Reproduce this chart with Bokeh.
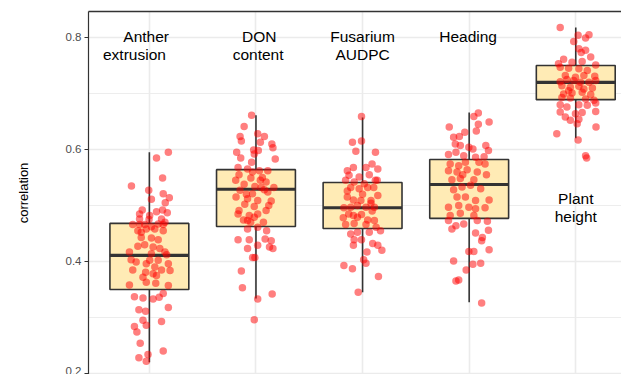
from bokeh.plotting import figure
from bokeh.models import Range1d, FixedTicker, Label, ColumnDataSource, LinearAxis
from bokeh.embed import file_html
from bokeh.resources import INLINE

# ---- data ----
traits = ["Anther extrusion", "DON content", "Fusarium AUDPC", "Heading", "Plant height"]
whisker_low = [0.220, 0.334, 0.345, 0.327, 0.620]
q1 = [0.350, 0.4625, 0.459, 0.477, 0.689]
median = [0.411, 0.529, 0.496, 0.5375, 0.720]
q3 = [0.468, 0.564, 0.541, 0.582, 0.750]
whisker_high = [0.595, 0.661, 0.657, 0.666, 0.818]

# jittered cross-validation correlations: (horizontal jitter, correlation)
anther_pts = [(0.178,0.595),(0.067,0.585),(0.124,0.549),(-0.168,0.535),(-0.006,0.527),(0.130,0.521),(0.187,0.514),(0.019,0.511),(0.149,0.505),(-0.067,0.492),(-0.092,0.485),(0.067,0.489),(0.124,0.492),(0.168,0.487),(0.003,0.482),(-0.092,0.476),(-0.003,0.475),(0.114,0.476),(0.146,0.470),(-0.156,0.466),(-0.092,0.466),(-0.044,0.466),(0.019,0.462),(0.083,0.467),(0.130,0.466),(-0.108,0.455),(-0.029,0.458),(0.051,0.458),(0.130,0.455),(-0.076,0.443),(0.019,0.442),(0.083,0.439),(-0.108,0.427),(-0.044,0.430),(0.035,0.426),(0.098,0.423),(-0.187,0.417),(0.019,0.414),(0.146,0.417),(0.162,0.412),(-0.171,0.403),(-0.124,0.399),(-0.029,0.396),(0.083,0.402),(0.178,0.396),(-0.156,0.385),(-0.035,0.381),(0.035,0.378),(0.114,0.385),(0.194,0.384),(-0.060,0.372),(0.067,0.375),(-0.187,0.358),(-0.029,0.363),(0.060,0.361),(0.178,0.357),(-0.140,0.337),(-0.060,0.335),(0.035,0.333),(0.092,0.336),(0.130,0.343),(0.178,0.318),(-0.098,0.314),(-0.035,0.311),(-0.060,0.295),(0.114,0.293),(-0.140,0.284),(-0.029,0.286),(-0.117,0.274),(-0.086,0.254),(0.130,0.240),(-0.098,0.228),(-0.013,0.234),(-0.029,0.222),(0.003,0.402),(0.051,0.390),(-0.076,0.452)]
don_pts = [(-0.041,0.661),(-0.111,0.641),(0.016,0.628),(-0.149,0.623),(0.079,0.623),(-0.137,0.615),(0.041,0.613),(0.149,0.610),(-0.181,0.595),(-0.022,0.599),(0.022,0.598),(0.159,0.603),(-0.143,0.585),(-0.016,0.592),(0.181,0.583),(-0.041,0.577),(-0.168,0.568),(-0.079,0.565),(0.032,0.562),(0.111,0.562),(-0.159,0.555),(-0.048,0.549),(0.041,0.545),(0.095,0.542),(0.168,0.532),(-0.190,0.545),(-0.111,0.538),(-0.010,0.534),(0.079,0.528),(-0.149,0.527),(-0.032,0.521),(0.111,0.524),(-0.187,0.515),(-0.079,0.512),(0.016,0.509),(0.143,0.508),(-0.105,0.502),(-0.016,0.498),(-0.159,0.491),(-0.168,0.485),(-0.063,0.482),(0.016,0.485),(0.095,0.491),(-0.117,0.474),(-0.016,0.479),(-0.079,0.458),(0.016,0.461),(-0.168,0.439),(-0.063,0.439),(0.086,0.440),(0.143,0.437),(-0.079,0.423),(0.016,0.429),(0.127,0.426),(0.159,0.423),(-0.032,0.407),(-0.010,0.407),(-0.137,0.383),(-0.127,0.353),(0.016,0.333),(0.152,0.342),(-0.016,0.296),(0.048,0.532),(-0.032,0.560),(-0.079,0.473),(0.060,0.550),(-0.090,0.520),(0.120,0.500),(-0.050,0.470),(0.070,0.470),(0.100,0.455)]
fusarium_pts = [(-0.010,0.659),(-0.095,0.613),(-0.010,0.615),(-0.063,0.597),(0.121,0.595),(-0.143,0.562),(-0.086,0.568),(0.032,0.568),(0.089,0.574),(0.143,0.565),(-0.127,0.554),(-0.032,0.551),(0.063,0.555),(0.137,0.545),(-0.159,0.545),(-0.079,0.542),(0.016,0.539),(-0.111,0.532),(-0.032,0.530),(0.048,0.532),(0.105,0.532),(-0.143,0.515),(-0.086,0.510),(-0.016,0.509),(0.079,0.509),(0.143,0.518),(-0.175,0.496),(-0.111,0.497),(-0.048,0.500),(0.032,0.497),(0.111,0.497),(-0.181,0.478),(-0.086,0.482),(-0.010,0.484),(0.048,0.474),(0.111,0.473),(-0.159,0.466),(-0.079,0.468),(0.032,0.466),(0.127,0.461),(-0.111,0.449),(-0.048,0.452),(0.063,0.452),(0.168,0.455),(-0.079,0.439),(-0.010,0.439),(0.095,0.432),(0.143,0.429),(-0.086,0.429),(0.181,0.420),(0.041,0.417),(0.010,0.403),(0.032,0.397),(-0.175,0.393),(-0.095,0.387),(0.149,0.373),(-0.041,0.345),(0.079,0.504),(-0.143,0.526),(-0.048,0.479),(0.090,0.490),(-0.130,0.485),(0.000,0.520),(0.120,0.545)]
heading_pts = [(0.086,0.665),(0.044,0.659),(0.086,0.645),(0.187,0.649),(-0.187,0.640),(-0.146,0.622),(-0.092,0.623),(-0.041,0.631),(0.067,0.633),(-0.130,0.610),(-0.083,0.607),(-0.003,0.604),(0.035,0.601),(0.156,0.607),(0.181,0.598),(-0.194,0.591),(-0.124,0.595),(-0.051,0.589),(0.060,0.586),(0.140,0.587),(-0.178,0.574),(-0.098,0.571),(-0.035,0.577),(0.092,0.577),(0.149,0.574),(-0.194,0.562),(-0.114,0.560),(-0.019,0.564),(0.076,0.560),(0.162,0.555),(-0.162,0.546),(-0.083,0.548),(0.044,0.546),(-0.146,0.528),(-0.067,0.533),(0.108,0.530),(0.187,0.510),(-0.114,0.515),(-0.035,0.515),(0.060,0.509),(-0.194,0.497),(-0.098,0.500),(-0.003,0.497),(0.060,0.494),(0.149,0.496),(-0.178,0.482),(-0.083,0.486),(0.044,0.482),(-0.194,0.473),(-0.051,0.467),(0.076,0.473),(0.171,0.472),(-0.162,0.458),(-0.124,0.464),(0.060,0.451),(0.124,0.443),(0.181,0.456),(0.117,0.437),(0.187,0.421),(-0.003,0.418),(0.044,0.418),(-0.146,0.401),(0.035,0.395),(0.108,0.397),(-0.028,0.385),(-0.124,0.365),(-0.098,0.367),(0.117,0.326),(0.013,0.536),(-0.060,0.555)]
plant_pts = [(-0.146,0.818),(0.022,0.804),(0.124,0.805),(0.092,0.799),(-0.019,0.793),(0.029,0.780),(0.092,0.777),(0.051,0.773),(0.140,0.765),(-0.114,0.761),(-0.162,0.753),(-0.035,0.756),(0.060,0.757),(0.187,0.751),(-0.146,0.747),(-0.067,0.745),(0.029,0.744),(0.108,0.741),(-0.098,0.732),(-0.003,0.729),(0.076,0.732),(0.178,0.731),(-0.146,0.721),(-0.083,0.725),(-0.019,0.723),(0.044,0.720),(0.124,0.720),(0.187,0.723),(-0.130,0.714),(-0.051,0.711),(0.029,0.713),(0.156,0.710),(-0.114,0.699),(-0.035,0.701),(0.060,0.702),(0.140,0.698),(-0.130,0.693),(-0.051,0.692),(0.092,0.690),(0.171,0.688),(-0.146,0.680),(-0.083,0.676),(0.029,0.680),(0.108,0.679),(0.187,0.683),(-0.146,0.667),(-0.003,0.664),(0.060,0.666),(0.187,0.668),(-0.098,0.658),(-0.051,0.652),(0.013,0.646),(0.029,0.654),(-0.178,0.628),(0.190,0.640),(0.022,0.617),(0.092,0.589),(0.102,0.585),(-0.067,0.705),(0.076,0.708)]

label_lines = [["Anther", "extrusion"], ["DON", "content"], ["Fusarium", "AUDPC"], ["Heading"], ["Plant", "height"]]
y_ticks = [0.2, 0.4, 0.6, 0.8]
y_minor = [0.3, 0.5, 0.7]

# ---- layout constants ----
Y_TOP = 0.8464
Y_BOT = 0.1982
BOX_W = 0.74
FONT = "Liberation Sans"
GRID = "#EBEBEB"
DARK = "#333333"

xs = [i + 1 for i in range(len(traits))]

p = figure(width=621, height=374, output_backend="svg", toolbar_location=None,
           x_range=Range1d(0.429, 5.429), y_range=Range1d(Y_BOT, Y_TOP),
           min_border_left=88, min_border_right=0, min_border_top=11, min_border_bottom=0)
p.outline_line_color = None
p.background_fill_color = "white"

p.xaxis.visible = False
p.xaxis.ticker = FixedTicker(ticks=xs)
p.xgrid.grid_line_color = GRID
p.xgrid.grid_line_width = 1.6

p.yaxis.ticker = FixedTicker(ticks=y_ticks, minor_ticks=y_minor)
p.ygrid.grid_line_color = GRID
p.ygrid.grid_line_width = 1.6
p.ygrid.minor_grid_line_color = GRID
p.ygrid.minor_grid_line_width = 0.9

ax = p.yaxis[0]
ax.axis_label = "correlation"
ax.axis_label_text_font = FONT
ax.axis_label_text_font_size = "13px"
ax.axis_label_text_font_style = "normal"
ax.axis_label_text_color = "black"
ax.axis_label_standoff = 32
ax.major_label_text_font = FONT
ax.major_label_text_font_size = "11.5px"
ax.major_label_text_color = "#4D4D4D"
ax.major_label_standoff = 3
ax.axis_line_color = DARK
ax.axis_line_width = 1.2
ax.major_tick_line_color = DARK
ax.major_tick_line_width = 1.2
ax.major_tick_in = 0
ax.major_tick_out = 4
ax.minor_tick_line_color = None

# top border of the panel
top_axis = LinearAxis(ticker=FixedTicker(ticks=[]), major_tick_out=0, major_tick_in=0,
                      minor_tick_out=0, minor_tick_in=0, major_label_text_font_size="0px",
                      major_label_standoff=0, axis_line_color=DARK, axis_line_width=1.5)
p.add_layout(top_axis, "above")

# boxes
box_src = ColumnDataSource(dict(x=xs, q1=q1, q3=q3, med=median, lo=whisker_low, hi=whisker_high,
                                left=[x - BOX_W / 2 for x in xs], right=[x + BOX_W / 2 for x in xs]))
p.segment(x0="x", y0="lo", x1="x", y1="q1", source=box_src, line_color=DARK, line_width=1.6)
p.segment(x0="x", y0="q3", x1="x", y1="hi", source=box_src, line_color=DARK, line_width=1.6)
p.vbar(x="x", width=BOX_W, bottom="q1", top="q3", source=box_src,
       fill_color="#FFEBB5", line_color=DARK, line_width=1.6)
p.segment(x0="left", y0="med", x1="right", y1="med", source=box_src, line_color=DARK, line_width=3.2)

# points
all_pts = [anther_pts, don_pts, fusarium_pts, heading_pts, plant_pts]
px, py = [], []
for x, pts in zip(xs, all_pts):
    for dx, v in pts:
        px.append(x + dx)
        py.append(v)
p.scatter(px, py, size=7.5, fill_color="red", fill_alpha=0.5, line_color=None)

# trait labels inside the panel
label_pos = [
    [(-0.03, 0.802), (-0.14, 0.770)],
    [(0.03, 0.802), (0.02, 0.770)],
    [(0.0, 0.802), (0.0, 0.770)],
    [(-0.01, 0.802)],
    [(0.0, 0.5125), (0.0, 0.480)],
]
for x, lines, poss in zip(xs, label_lines, label_pos):
    for txt, (dx, yy) in zip(lines, poss):
        p.add_layout(Label(x=x + dx, y=yy, text=txt, text_font=FONT, text_font_size="15.5px",
                           text_color="black", text_align="center", text_baseline="alphabetic"))

open("out.html", "w").write(file_html(p, INLINE))
